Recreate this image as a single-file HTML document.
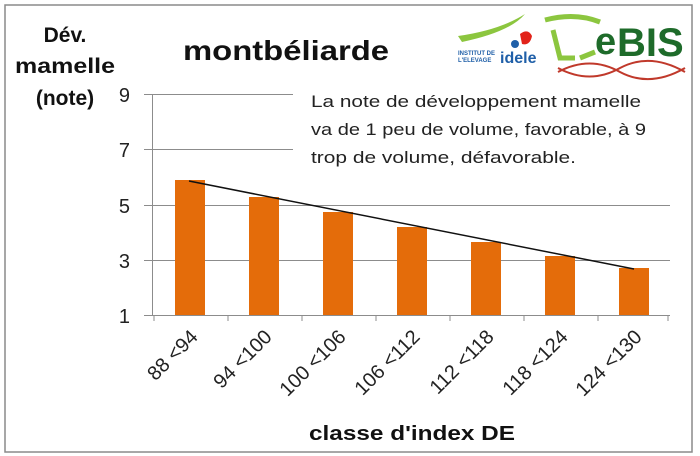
<!DOCTYPE html>
<html><head><meta charset="utf-8"><style>
html,body{margin:0;padding:0;background:#fff}
svg{display:block;font-family:"Liberation Sans",sans-serif}
</style></head><body>
<svg width="700" height="456" viewBox="0 0 700 456" xmlns="http://www.w3.org/2000/svg">
<rect x="5" y="5" width="687" height="447" fill="#fff" stroke="#8a8a8a" stroke-width="1.5"/>
<g stroke="#8c8c8c" stroke-width="1">
<line x1="144" y1="94.5" x2="293" y2="94.5"/>
<line x1="144" y1="149.5" x2="293" y2="149.5"/>
<line x1="144" y1="205.5" x2="670" y2="205.5"/>
<line x1="144" y1="260.5" x2="670" y2="260.5"/>
<line x1="144" y1="315.5" x2="670" y2="315.5"/>
<line x1="152.5" y1="94" x2="152.5" y2="315"/>
<g>
<line x1="154" y1="315" x2="154" y2="321"/><line x1="228" y1="315" x2="228" y2="321"/>
<line x1="302" y1="315" x2="302" y2="321"/><line x1="376" y1="315" x2="376" y2="321"/>
<line x1="450" y1="315" x2="450" y2="321"/><line x1="524" y1="315" x2="524" y2="321"/>
<line x1="598" y1="315" x2="598" y2="321"/><line x1="668" y1="315" x2="668" y2="321"/>
</g></g>
<g fill="#e46c0a">
<rect x="175" y="180" width="30" height="135"/>
<rect x="249" y="197" width="30" height="118"/>
<rect x="323" y="212" width="30" height="103"/>
<rect x="397" y="227" width="30" height="88"/>
<rect x="471" y="242" width="30" height="73"/>
<rect x="545" y="256" width="30" height="59"/>
<rect x="619" y="268" width="30" height="47"/>
</g>
<line x1="189" y1="181" x2="634" y2="269" stroke="#111" stroke-width="1.5"/>
<g font-size="20" fill="#222" text-anchor="end">
<text x="130" y="102">9</text><text x="130" y="157">7</text>
<text x="130" y="213">5</text><text x="130" y="268">3</text><text x="130" y="323">1</text>
</g>
<g font-size="21" font-weight="bold" fill="#111" text-anchor="middle">
<text x="65" y="42">Dév.</text>
<text x="65" y="73" textLength="100" lengthAdjust="spacingAndGlyphs">mamelle</text>
<text x="65" y="105">(note)</text>
</g>
<text x="286" y="60" font-size="28" font-weight="bold" fill="#111" text-anchor="middle" textLength="206" lengthAdjust="spacingAndGlyphs">montbéliarde</text>
<g font-size="17" fill="#222">
<text x="311" y="107" textLength="330" lengthAdjust="spacingAndGlyphs">La note de développement  mamelle</text>
<text x="311" y="135" textLength="335" lengthAdjust="spacingAndGlyphs">va de 1 peu de volume, favorable, à 9</text>
<text x="311" y="163" textLength="265" lengthAdjust="spacingAndGlyphs">trop de volume, défavorable.</text>
</g>
<g font-size="20" fill="#222" text-anchor="end">
<text transform="translate(199,338) rotate(-45)">88 &lt;94</text>
<text transform="translate(273,338) rotate(-45)">94 &lt;100</text>
<text transform="translate(347,338) rotate(-45)">100 &lt;106</text>
<text transform="translate(421,338) rotate(-45)">106 &lt;112</text>
<text transform="translate(495,338) rotate(-45)">112 &lt;118</text>
<text transform="translate(569,338) rotate(-45)">118 &lt;124</text>
<text transform="translate(643,338) rotate(-45)">124 &lt;130</text>
</g>
<text x="412" y="440" font-size="20" font-weight="bold" fill="#111" text-anchor="middle" textLength="206" lengthAdjust="spacingAndGlyphs">classe d'index DE</text>
<g>
<path d="M458 36 Q500 30 525 14 Q510 32 462 42 Z" fill="#8cc63f"/>
<path d="M520 34 q8 -6 12 2 q-2 10 -10 8 z" fill="#e2231a"/>
<circle cx="515" cy="44" r="4" fill="#1f5fa8"/>
<text x="458" y="55" font-size="6" font-weight="bold" fill="#1f5fa8">INSTITUT DE</text>
<text x="458" y="62" font-size="6" font-weight="bold" fill="#1f5fa8">L'ELEVAGE</text>
<text x="500" y="63" font-size="16" font-weight="bold" fill="#1f5fa8">idele</text>
<path d="M545 20 Q575 12 600 22" stroke="#8cc63f" stroke-width="5" fill="none"/>
<path d="M553 30 L560 58 L575 58 M580 58 L595 52" stroke="#8cc63f" stroke-width="5" fill="none"/>
<text x="595" y="54" font-size="38" font-weight="bold" fill="#1e6b2a">e</text>
<text x="617" y="56" font-size="40" font-weight="bold" fill="#1e6b2a">BIS</text>
<path d="M558 72 Q590 55 620 72 Q650 88 685 68" stroke="#c0392b" stroke-width="2" fill="none"/>
<path d="M558 68 Q590 85 620 68 Q650 52 685 72" stroke="#c0392b" stroke-width="2" fill="none"/>
</g>
</svg>
</body></html>
